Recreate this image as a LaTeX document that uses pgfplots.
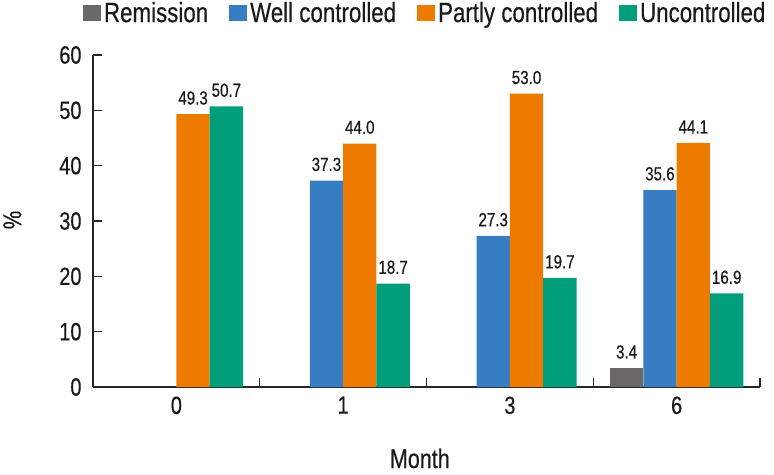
\documentclass[border=0pt]{standalone}
\usepackage{pgfplots}
\pgfplotsset{compat=1.18}
\usepackage{fontspec}
\setmainfont{Liberation Sans}[FakeStretch=0.8, FakeBold=0.4]
\definecolor{cRem}{RGB}{106,104,104}
\definecolor{cWell}{RGB}{54,125,194}
\definecolor{cPart}{RGB}{238,122,0}
\definecolor{cUnc}{RGB}{0,158,122}
\begin{document}
\begin{tikzpicture}
\useasboundingbox (0,0) rectangle (774bp,-475bp);
\begin{axis}[
  at={(93bp,-387bp)}, anchor=south west,
  scale only axis,
  width=667bp, height=332bp,
  ybar=0pt, bar width=0.2,
  xmin=-0.5, xmax=3.5,
  ymin=0, ymax=60,
  ytick={0,10,20,30,40,50,60},
  xtick={0,1,2,3},
  xticklabels={0,1,3,6},
  minor xtick={0.5,1.5,2.5,3.5},
  axis x line=bottom, axis y line=left,
  axis line style={-, line width=1.3bp, black!85},
  tick style={line width=1.3bp, black!85},
  tick align=inside,
  major tick length=9bp,
  minor tick length=9bp,
  x tick style={draw=none},
  minor x tick style={draw=black!85, line width=1.3bp},
  /pgf/number format/assume math mode=true,
  ticklabel style={font=\fontsize{25}{30}\selectfont, text=black!90},
  yticklabel style={xshift=-8bp},
  xticklabel style={yshift=-6bp},
  xlabel={Month},
  ylabel={\%},
  xlabel style={font=\fontsize{27}{32}\selectfont, text=black!90, at={(axis description cs:0.49,-0.215)}, anchor=center},
  ylabel style={font=\fontsize{26}{30}\selectfont, text=black!90, at={(axis description cs:-0.121,0.503)}, anchor=center, rotate=0},
  nodes near coords,
  nodes near coords style={font=\fontsize{19}{22}\selectfont, text=black!90, yshift=6bp,
    /pgf/number format/fixed, /pgf/number format/fixed zerofill, /pgf/number format/precision=1},
  legend columns=4,
  legend style={draw=none, fill=none, at={(axis description cs:-0.015,1.16)}, anchor=north west, inner sep=0pt, outer sep=0pt,
    font=\fontsize{28}{31}\selectfont, text=black!90,
    /tikz/every even column/.append style={column sep=18bp},
    nodes={inner xsep=3bp, inner ysep=0pt}},
  legend image code/.code={\fill[#1] (0bp,-8bp) rectangle (18bp,8bp);},
]
\addplot[fill=cRem, draw=none] coordinates {(3,3.4)};
\addplot[fill=cWell, draw=none] coordinates {(1,37.3) (2,27.3) (3,35.6)};
\addplot[fill=cPart, draw=none] coordinates {(0,49.3) (1,44.0) (2,53.0) (3,44.1)};
\addplot[fill=cUnc, draw=none] coordinates {(0,50.7) (1,18.7) (2,19.7) (3,16.9)};
\legend{Remission, Well controlled, Partly controlled, Uncontrolled}
\end{axis}
\end{tikzpicture}
\end{document}
